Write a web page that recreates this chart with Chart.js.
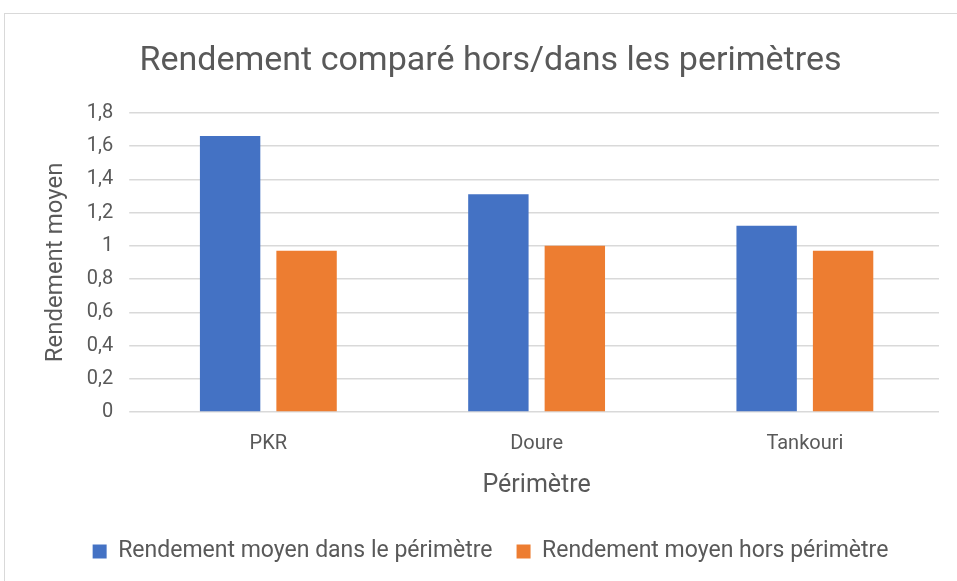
<!DOCTYPE html>
<html>
<head>
<meta charset="utf-8">
<script src="https://cdn.jsdelivr.net/npm/chart.js@4"></script>
<style>
  html, body { margin: 0; padding: 0; background: #fff; }
  #wrap { position: relative; width: 957px; height: 581px; }
  #frame {
    position: absolute; left: 4px; top: 13px; width: 960px; height: 600px;
    border: 1px solid #d9d9d9; box-sizing: border-box; pointer-events: none;
  }
  canvas { position: absolute; left: 0; top: 0; }
</style>
</head>
<body>
<div id="wrap">
  <canvas id="chart" width="957" height="581"></canvas>
  <div id="frame"></div>
</div>
<script>
// Chart data
const categories = ['PKR', 'Doure', 'Tankouri'];
const dansPerimetre = [1.66, 1.31, 1.12];
const horsPerimetre = [0.97, 1.0, 0.97];
const seriesLabels = ['Rendement moyen dans le périmètre', 'Rendement moyen hors périmètre'];

const FONT = "Roboto, Lato, sans-serif";
const TEXT = '#595959';

const fmt = v => String(Math.round(v * 10) / 10).replace('.', ',');

new Chart(document.getElementById('chart'), {
  type: 'bar',
  data: {
    labels: categories,
    datasets: [
      {
        label: seriesLabels[0],
        data: dansPerimetre,
        backgroundColor: '#4472c4',
        barPercentage: 0.79,
        categoryPercentage: 0.57
      },
      {
        label: seriesLabels[1],
        data: horsPerimetre,
        backgroundColor: '#ed7d31',
        barPercentage: 0.79,
        categoryPercentage: 0.57
      }
    ]
  },
  options: {
    responsive: false,
    animation: false,
    layout: { padding: { left: 42, right: 18, top: 41, bottom: 8 } },
    plugins: {
      title: {
        display: true,
        text: 'Rendement comparé hors/dans les perimètres',
        color: TEXT,
        font: { family: FONT, size: 34, weight: 'normal' },
        padding: { top: 0, bottom: 31 }
      },
      legend: {
        position: 'bottom',
        labels: {
          color: TEXT,
          font: { family: FONT, size: 23 },
          boxWidth: 14,
          boxHeight: 14,
          padding: 24
        }
      },
      tooltip: { enabled: false }
    },
    scales: {
      x: {
        grid: { display: false },
        border: { display: false },
        ticks: { color: TEXT, font: { family: FONT, size: 20 }, padding: 12 },
        title: {
          display: true,
          text: 'Périmètre',
          color: TEXT,
          font: { family: FONT, size: 25 },
          padding: { top: 3, bottom: 15 }
        }
      },
      y: {
        min: 0,
        max: 1.8,
        grid: { color: '#d9d9d9', lineWidth: 1.5, tickLength: 5 },
        border: { display: false },
        ticks: {
          stepSize: 0.2,
          color: TEXT,
          font: { family: FONT, size: 20 },
          padding: 16,
          callback: v => fmt(v)
        },
        title: {
          display: true,
          text: 'Rendement moyen',
          color: TEXT,
          font: { family: FONT, size: 24 },
          padding: { top: 0, bottom: 0 }
        }
      }
    }
  }
});
</script>
</body>
</html>
